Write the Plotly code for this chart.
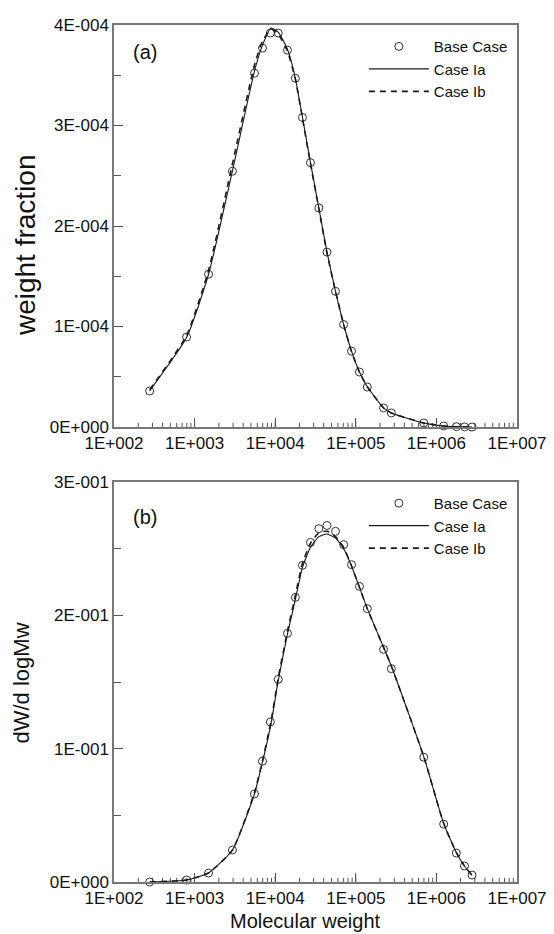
import plotly.graph_objects as go

# ---------------- data ----------------
mw = [277, 795, 1490, 2950, 5530, 6960, 8710, 10900, 14200, 17800, 21800, 27400,
      34800, 43900, 56000, 70700, 88500, 111000, 139000, 221000, 276000, 697000,
      1230000, 1770000, 2230000, 2770000]

mw_line = [277, 795, 1490, 2950, 5530, 6960, 8900, 10900, 14200, 17800, 21800, 27400,
           34800, 43900, 56000, 70700, 88500, 111000, 139000, 221000, 276000, 697000,
           1230000, 1770000, 2230000, 2770000]

# panel (a): weight fraction
wf_base = [0.358e-4, 0.895e-4, 1.52e-4, 2.545e-4, 3.52e-4, 3.77e-4, 3.92e-4, 3.92e-4,
           3.75e-4, 3.47e-4, 3.08e-4, 2.63e-4, 2.18e-4, 1.74e-4, 1.35e-4, 1.02e-4,
           0.755e-4, 0.547e-4, 0.398e-4, 0.19e-4, 0.14e-4, 0.04e-4, 0.01e-4, 0.003e-4,
           0.001e-4, 0.0]
wf_ia = [0.36e-4, 0.89e-4, 1.52e-4, 2.55e-4, 3.54e-4, 3.80e-4, 3.97e-4, 3.93e-4,
         3.76e-4, 3.47e-4, 3.08e-4, 2.63e-4, 2.18e-4, 1.74e-4, 1.35e-4, 1.02e-4,
         0.755e-4, 0.55e-4, 0.40e-4, 0.19e-4, 0.14e-4, 0.04e-4, 0.01e-4, 0.003e-4,
         0.001e-4, 0.0]
wf_ib = [0.37e-4, 0.91e-4, 1.56e-4, 2.62e-4, 3.60e-4, 3.84e-4, 3.96e-4, 3.91e-4,
         3.74e-4, 3.46e-4, 3.07e-4, 2.62e-4, 2.17e-4, 1.73e-4, 1.35e-4, 1.02e-4,
         0.75e-4, 0.545e-4, 0.40e-4, 0.19e-4, 0.14e-4, 0.04e-4, 0.01e-4, 0.003e-4,
         0.001e-4, 0.0]

# panel (b): dW/dlogMw
dw_base = [0.0, 0.0015, 0.0067, 0.024, 0.066, 0.0906, 0.120, 0.152, 0.1865, 0.2135,
           0.2375, 0.2547, 0.265, 0.2674, 0.263, 0.253, 0.238, 0.2217, 0.205, 0.1745,
           0.160, 0.0936, 0.0434, 0.0217, 0.012, 0.0052]
dw_ia = [0.0, 0.0015, 0.0068, 0.024, 0.066, 0.090, 0.119, 0.151, 0.186, 0.212,
         0.236, 0.251, 0.259, 0.261, 0.258, 0.250, 0.237, 0.221, 0.205, 0.176,
         0.162, 0.094, 0.044, 0.022, 0.012, 0.005]
dw_ib = [0.0, 0.0015, 0.0068, 0.024, 0.067, 0.091, 0.121, 0.153, 0.188, 0.215,
         0.239, 0.254, 0.262, 0.263, 0.259, 0.251, 0.237, 0.221, 0.205, 0.176,
         0.162, 0.094, 0.044, 0.022, 0.012, 0.005]

x_tickvals = [1e2, 1e3, 1e4, 1e5, 1e6, 1e7]
x_ticktext = ["1E+002", "1E+003", "1E+004", "1E+005", "1E+006", "1E+007"]
ya_tickvals = [0, 1e-4, 2e-4, 3e-4, 4e-4]
ya_ticktext = ["0E+000", "1E-004", "2E-004", "3E-004", "4E-004"]
yb_tickvals = [0, 0.1, 0.2, 0.3]
yb_ticktext = ["0E+000", "1E-001", "2E-001", "3E-001"]

# log-axis tick positions (major inner decades and minor 2..9 per decade)
x_major_inner = [1e3, 1e4, 1e5, 1e6]
x_minor = [m * 10 ** d for d in range(2, 7) for m in range(2, 10)]

FONT = "Liberation Sans, Arial, sans-serif"
INK = "#1a1a1a"
TICKC = "#555"

fig = go.Figure()

def add_log_ticks(xa, ya):
    # tick marks on the log x axis, half-clipped by the plot area so they point inward
    for vals, size in ((x_minor, 6), (x_major_inner, 9)):
        fig.add_trace(go.Scatter(x=vals, y=[0] * len(vals), mode="markers",
                                 marker=dict(symbol="line-ns-open", size=size, color=TICKC,
                                             line=dict(width=1, color=TICKC)),
                                 cliponaxis=True, showlegend=False, hoverinfo="skip",
                                 xaxis=xa, yaxis=ya))

def add_panel(xa, ya, legend, base, ia, ib):
    add_log_ticks(xa, ya)
    fig.add_trace(go.Scatter(x=mw, y=base, mode="markers", name="Base Case",
                             marker=dict(symbol="circle-open", size=8, color="#333",
                                         line=dict(width=1)),
                             cliponaxis=False,
                             xaxis=xa, yaxis=ya, legend=legend))
    fig.add_trace(go.Scatter(x=mw_line, y=ia, mode="lines", name="Case Ia",
                             line=dict(color=INK, width=1.1, shape="spline", smoothing=0.5),
                             xaxis=xa, yaxis=ya, legend=legend))
    fig.add_trace(go.Scatter(x=mw_line, y=ib, mode="lines", name="Case Ib",
                             line=dict(color=INK, width=1.6, dash="6px,5px",
                                       shape="spline", smoothing=0.5),
                             xaxis=xa, yaxis=ya, legend=legend))

add_panel("x", "y", "legend", wf_base, wf_ia, wf_ib)
add_panel("x2", "y2", "legend2", dw_base, dw_ia, dw_ib)

xaxis_common = dict(type="log", range=[2, 7], tickmode="array",
                    tickvals=x_tickvals, ticktext=x_ticktext,
                    ticks="inside", ticklen=9, tickcolor=TICKC,
                    showline=True, linecolor="#777", linewidth=1.5, mirror=True,
                    showgrid=False, zeroline=False, automargin=False,
                    tickfont=dict(size=17, color="#111", family=FONT))
yaxis_common = dict(tickmode="array", ticks="inside", ticklen=9, tickcolor=TICKC,
                    showline=True, linecolor="#777", linewidth=1.5, mirror=True,
                    showgrid=False, zeroline=False, automargin=False,
                    tickfont=dict(size=17, color="#111", family=FONT))

# page body adds an 8px offset, so the figure is 8px smaller and margins compensate
fig.update_layout(
    width=546, height=926,
    margin=dict(l=106, r=37, t=17, b=52, autoexpand=False),
    paper_bgcolor="white", plot_bgcolor="white",
    font=dict(family=FONT, color="#111"),
    xaxis=dict(domain=[0, 1], anchor="y", **xaxis_common),
    yaxis=dict(domain=[455 / 857, 1], anchor="x", range=[0, 4e-4],
               tickvals=ya_tickvals, ticktext=ya_ticktext,
               minor=dict(dtick=0.5e-4, ticks="inside", ticklen=7, tickcolor=TICKC,
                          showgrid=False),
               **yaxis_common),
    xaxis2=dict(domain=[0, 1], anchor="y2", **xaxis_common),
    yaxis2=dict(domain=[0, 400 / 857], anchor="x2", range=[0, 0.3],
                tickvals=yb_tickvals, ticktext=yb_ticktext,
                minor=dict(dtick=0.05, ticks="inside", ticklen=7, tickcolor=TICKC,
                           showgrid=False),
                **yaxis_common),
    legend=dict(x=0.62, y=0.994, xanchor="left", yanchor="top", bgcolor="rgba(0,0,0,0)",
                font=dict(size=15, family=FONT, color="#111"), itemwidth=60,
                tracegroupgap=0),
    legend2=dict(x=0.62, y=0.461, xanchor="left", yanchor="top", bgcolor="rgba(0,0,0,0)",
                 font=dict(size=15, family=FONT, color="#111"), itemwidth=60,
                 tracegroupgap=0),
    showlegend=True,
)

annotations = [
    dict(text="(a)", xref="x domain", yref="y domain", x=0.0757, y=0.933,
         xanchor="center", yanchor="middle",
         showarrow=False, font=dict(size=20, family=FONT, color="#111")),
    dict(text="(b)", xref="x2 domain", yref="y2 domain", x=0.0757, y=0.9125,
         xanchor="center", yanchor="middle",
         showarrow=False, font=dict(size=20, family=FONT, color="#111")),
    dict(text="weight fraction", xref="x domain", yref="y domain", x=-0.218, y=0.453,
         xanchor="center", yanchor="middle",
         textangle=-90, showarrow=False, font=dict(size=28, family=FONT, color="#111")),
    dict(text="dW/d logMw", xref="x2 domain", yref="y2 domain", x=-0.232, y=0.4975,
         xanchor="center", yanchor="middle",
         textangle=-90, showarrow=False, font=dict(size=22, family=FONT, color="#111")),
    dict(text="Molecular weight", xref="x2 domain", yref="y2 domain", x=0.476, y=-0.0975,
         xanchor="center", yanchor="middle",
         showarrow=False, font=dict(size=20, family=FONT, color="#111")),
]
fig.update_layout(annotations=annotations)

fig.write_html("out.html")
